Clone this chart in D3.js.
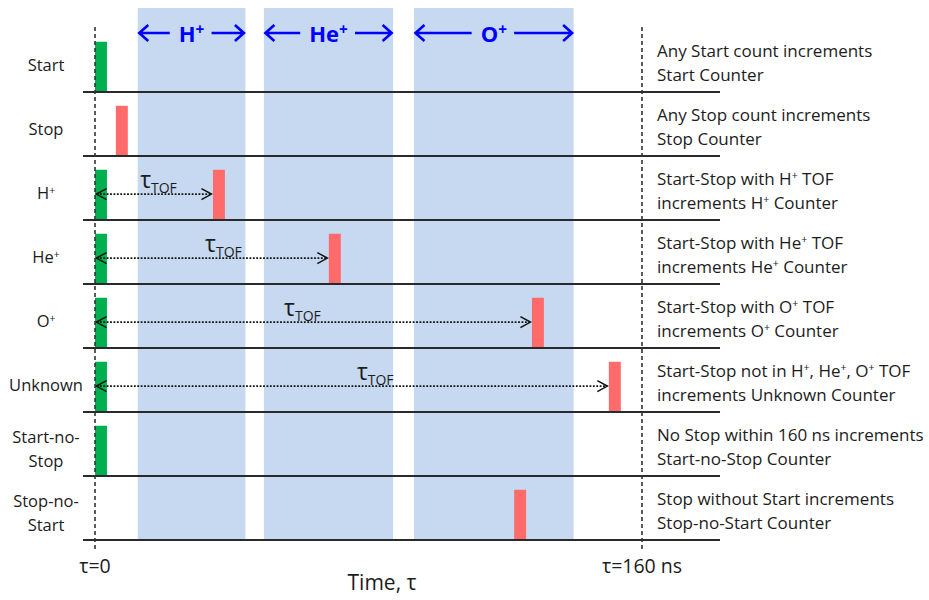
<!DOCTYPE html>
<html>
<head>
<meta charset="utf-8">
<script src="https://cdn.jsdelivr.net/npm/d3@7"></script>
<style>
  html, body { margin: 0; padding: 0; background: #fff; }
  svg { display: block; }
  text { font-family: "Open Sans", "DejaVu Sans", sans-serif; }
</style>
</head>
<body>
<svg id="chart" width="929" height="600"></svg>
<script>
// ---------------- data ----------------
const rows = ["Start", "Stop", "H⁺", "He⁺", "O⁺", "Unknown", "Start-no-Stop", "Stop-no-Start"];
const rowLabelLines = [["Start"], ["Stop"], ["H⁺"], ["He⁺"], ["O⁺"], ["Unknown"], ["Start-no-", "Stop"], ["Stop-no-", "Start"]];
// time (ns) of Start pulse (green) and Stop pulse (red) per row; null = none
const startPulse = [0, null, 0, 0, 0, 0, 0, null];
const stopPulse = [null, 6.1, 34.5, 68.4, 127.8, 150.3, null, 122.6];
const pulseWidth = 3.5; // ns
// time (ns) where the τTOF annotation starts, per row
const tofLabelAt = [null, null, 13.2, 32.2, 55.3, 76.6, null, null];
const descriptions = [
  ["Any Start count increments", "Start Counter"],
  ["Any Stop count increments", "Stop Counter"],
  ["Start-Stop with H⁺ TOF", "increments H⁺ Counter"],
  ["Start-Stop with He⁺ TOF", "increments He⁺ Counter"],
  ["Start-Stop with O⁺ TOF", "increments O⁺ Counter"],
  ["Start-Stop not in H⁺, He⁺, O⁺ TOF", "increments Unknown Counter"],
  ["No Stop within 160 ns increments", "Start-no-Stop Counter"],
  ["Stop without Start increments", "Stop-no-Start Counter"]
];
const windowNames = ["H⁺", "He⁺", "O⁺"];
const windowStart = [12.5, 49.4, 93.3];
const windowEnd = [44.0, 87.2, 140.0];
const timeTicks = [0, 160];
const timeTickLabels = ["τ=0", "τ=160 ns"];
const axisTitle = "Time, τ";

// ---------------- layout ----------------
const svg = d3.select("#chart");
svg.append("rect").attr("width", 929).attr("height", 600).attr("fill", "#fff");

const x = d3.scaleLinear().domain([0, 160]).range([95, 642]);
const y = d3.scaleBand().domain(rows).range([28, 540]).padding(0);
const bw = y.bandwidth();

const GREEN = "#00b050", RED = "#ff6b6b", BAND = "#c6d9f1", BLUE = "#0000ff", INK = "#1c1c1c";

// helper: render text with "⁺" as a real superscript
function rich(textSel, str, fs, supScale, upScale) {
  const parts = str.split("⁺");
  const up = fs * (upScale || 0.33);
  parts.forEach((p, i) => {
    const t = textSel.append("tspan").text(p);
    if (i > 0) t.attr("dy", up);
    if (i < parts.length - 1) {
      textSel.append("tspan").text("+").attr("font-size", fs * (supScale || 0.62)).attr("dy", -up);
    }
  });
}

// ion TOF windows
svg.append("g").selectAll("rect").data(windowNames).join("rect")
  .attr("x", (d, i) => x(windowStart[i]))
  .attr("width", (d, i) => x(windowEnd[i]) - x(windowStart[i]))
  .attr("y", 8).attr("height", 540 - 8)
  .attr("fill", BAND);

// window labels with arrows
const wl = svg.append("g");
windowNames.forEach((name, i) => {
  const cx = (x(windowStart[i]) + x(windowEnd[i])) / 2;
  const t = wl.append("text").attr("x", cx).attr("y", 42)
    .attr("text-anchor", "middle").attr("font-size", 22).attr("font-weight", 700)
    .attr("fill", BLUE);
  rich(t, name, 22, 0.7, 0.33);
  const bb = t.node().getBBox();
  const ay = 33;
  const l0 = x(windowStart[i]) + 1.5, l1 = bb.x - 9;
  const r0 = bb.x + bb.width + 7, r1 = x(windowEnd[i]) - 1.5;
  const p = d3.path();
  p.moveTo(l0, ay); p.lineTo(l1, ay);
  p.moveTo(l0 + 9, ay - 8); p.lineTo(l0, ay); p.lineTo(l0 + 9, ay + 8);
  p.moveTo(r0, ay); p.lineTo(r1, ay);
  p.moveTo(r1 - 9, ay - 8); p.lineTo(r1, ay); p.lineTo(r1 - 9, ay + 8);
  wl.append("path").attr("d", p.toString()).attr("fill", "none")
    .attr("stroke", BLUE).attr("stroke-width", 2.6);
});

// pulses
const bars = svg.append("g");
const barH = bw * 0.785;
bars.selectAll("rect.start").data(rows.filter((r, i) => startPulse[i] !== null)).join("rect")
  .attr("class", "start")
  .attr("x", d => x(startPulse[rows.indexOf(d)]))
  .attr("width", d => x(startPulse[rows.indexOf(d)] + pulseWidth) - x(startPulse[rows.indexOf(d)]))
  .attr("y", d => y(d) + bw - barH).attr("height", barH)
  .attr("fill", GREEN);
bars.selectAll("rect.stop").data(rows.filter((r, i) => stopPulse[i] !== null)).join("rect")
  .attr("class", "stop")
  .attr("x", d => x(stopPulse[rows.indexOf(d)]))
  .attr("width", d => x(stopPulse[rows.indexOf(d)] + pulseWidth) - x(stopPulse[rows.indexOf(d)]))
  .attr("y", d => y(d) + bw - barH).attr("height", barH)
  .attr("fill", RED);

// TOF arrows
const arr = svg.append("g");
rows.forEach((r, i) => {
  if (startPulse[i] === null || stopPulse[i] === null) return;
  const ay = y(r) + bw * 0.595;
  const a0 = x(startPulse[i]) + 1.5, a1 = x(stopPulse[i]) - 1.5;
  arr.append("line").attr("x1", a0).attr("x2", a1).attr("y1", ay).attr("y2", ay)
    .attr("stroke", "#111").attr("stroke-width", 1.8).attr("stroke-dasharray", "1.8,1.6");
  const p = d3.path();
  p.moveTo(a0 + 10, ay - 5.5); p.lineTo(a0, ay); p.lineTo(a0 + 10, ay + 5.5);
  p.moveTo(a1 - 10, ay - 5.5); p.lineTo(a1, ay); p.lineTo(a1 - 10, ay + 5.5);
  arr.append("path").attr("d", p.toString()).attr("fill", "none")
    .attr("stroke", "#111").attr("stroke-width", 1.5);
  const t = arr.append("text").attr("x", x(tofLabelAt[i])).attr("y", ay - 6).attr("fill", INK);
  t.append("tspan").text("τ").attr("font-size", 23);
  t.append("tspan").text("TOF").attr("font-size", 14).attr("dy", 4.5);
});

// row separators
svg.append("g").selectAll("line").data(rows).join("line")
  .attr("x1", 83).attr("x2", 720)
  .attr("y1", d => y(d) + bw).attr("y2", d => y(d) + bw)
  .attr("stroke", "#2a2a2a").attr("stroke-width", 2);

// time markers (dashed verticals)
svg.append("g").selectAll("line").data(timeTicks).join("line")
  .attr("x1", d => x(d)).attr("x2", d => x(d))
  .attr("y1", 27).attr("y2", 551)
  .attr("stroke", "#333").attr("stroke-width", 1.6).attr("stroke-dasharray", "4,3");

// tick labels
svg.append("g").selectAll("text").data(timeTicks).join("text")
  .attr("x", d => x(d)).attr("y", 573).attr("text-anchor", "middle")
  .attr("font-size", 19.5).attr("fill", INK)
  .text((d, i) => timeTickLabels[i]);

svg.append("text").attr("x", 382).attr("y", 590).attr("text-anchor", "middle")
  .attr("font-size", 21).attr("fill", INK).text(axisTitle);

// row labels
const rl = svg.append("g");
rows.forEach((r, i) => {
  const lines = rowLabelLines[i];
  const base = lines.length === 1 ? y(r) + 43 : y(r) + 31;
  lines.forEach((ln, k) => {
    const t = rl.append("text").attr("x", 46).attr("y", base + k * 24)
      .attr("text-anchor", "middle").attr("font-size", 16.5).attr("fill", INK);
    rich(t, ln, 16.5);
  });
});

// descriptions
const ds = svg.append("g");
rows.forEach((r, i) => {
  descriptions[i].forEach((ln, k) => {
    const t = ds.append("text").attr("x", 657).attr("y", y(r) + 28.7 + k * 23.8)
      .attr("font-size", 17).attr("fill", INK);
    rich(t, ln, 17);
  });
});
</script>
</body>
</html>
